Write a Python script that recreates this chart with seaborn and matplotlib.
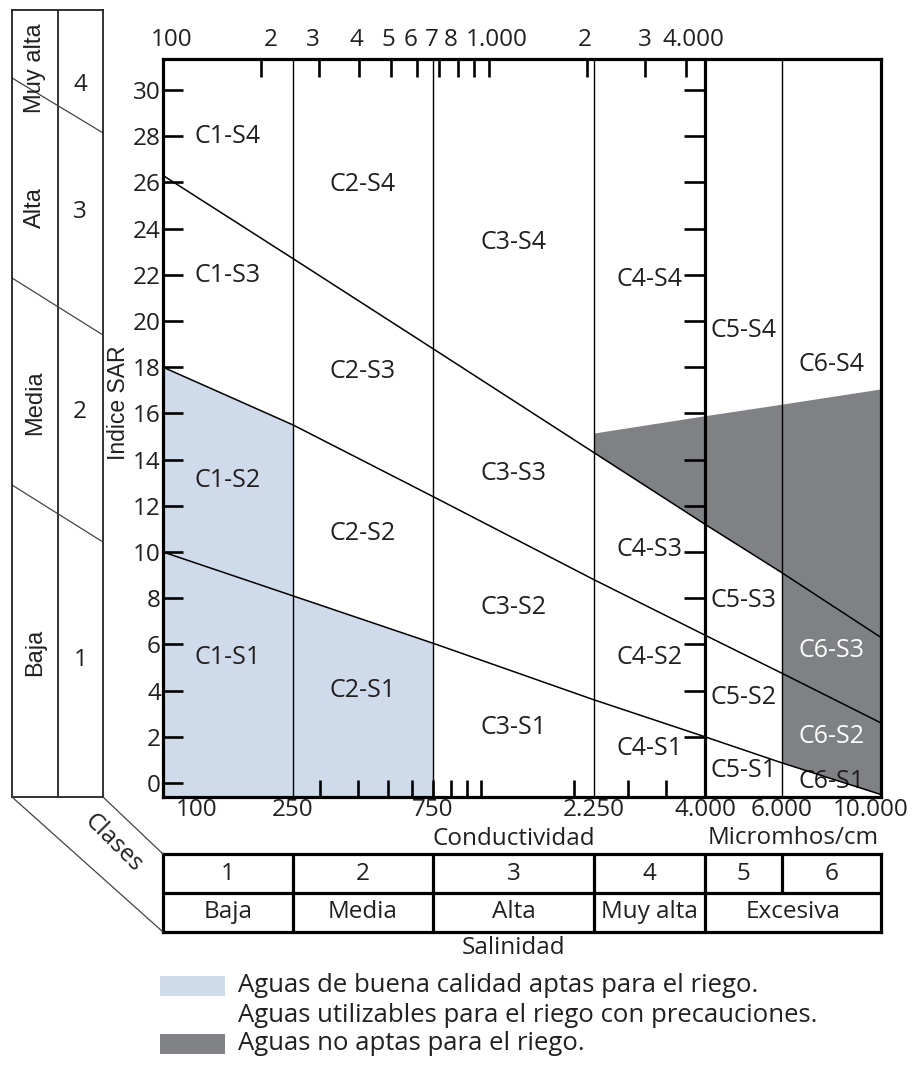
import numpy as np
import pandas as pd
import matplotlib
matplotlib.use("Agg")
import matplotlib.pyplot as plt
from matplotlib.patches import Rectangle, ConnectionPatch
from matplotlib.transforms import ScaledTranslation, blended_transform_factory
import seaborn as sns

# conductivity class limits (micromhos/cm) and their labels
BOUNDS = [100, 250, 750, 2250, 4000, 6000, 10000]
BOUND_LABELS = ["100", "250", "750", "2.250", "4.000", "6.000", "10.000"]
# the diagram's axis is only roughly logarithmic: where each limit sits along it
AXIS_STOPS = [0, 130, 270, 431, 542, 619, 718]

# SAR of the three sodium-class limits, read at each conductivity limit
S1_S2 = [10.0, 8.1, 6.05, 3.6, 2.0, 0.87, -0.5]
S2_S3 = [18.0, 15.5, 12.4, 8.8, 6.4, 4.75, 2.6]
S3_S4 = [26.3, 22.7, 18.8, 14.3, 11.2, 9.1, 6.3]
# upper edge of the "not suitable" zone at 2250, 4000, 6000, 10000
UNFIT_TOP = [15.15, 15.9, 16.4, 17.06]

SAR_TICKS = list(range(0, 31, 2))
TOP_TICKS = [100, 200, 300, 400, 500, 600, 700, 800, 900, 1000, 2000, 3000, 4000]
TOP_LABELS = ["100", "2", "3", "4", "5", "6", "7", "8", "", "1.000", "2", "3", "4.000"]
TOP_LABEL_SHIFT = [9, 10, -6, -3, -3, -6, -7, -7, 0, 8, -3, 0, 8]  # px
BOTTOM_TICKS = [300, 400, 500, 600, 700, 800, 900, 1000, 2000, 3000, 4000]
TOP_SPAN = (100, 15900)
BOTTOM_SPAN = (93, 19900)

SALINITY_CLASSES = ["1", "2", "3", "4", "5", "6"]
SALINITY_NAMES = ["Baja", "Media", "Alta", "Muy alta", "Excesiva"]
SALINITY_NAME_SPANS = [(100, 250), (250, 750), (750, 2250), (2250, 4000), (4000, 10000)]

SODIUM_NAMES = ["Baja", "Media", "Alta", "Muy alta"]
SODIUM_CLASSES = ["1", "2", "3", "4"]
SODIUM_NAME_Y = [5.67, 16.45, 24.9, 30.95]
SODIUM_CLASS_Y = [5.32, 16.06, 24.7, 30.2]
# left panel row limits (SAR at left edge, SAR at right edge)
SODIUM_ROW_LIMITS = [(12.9, 10.43), (21.86, 19.39), (30.52, 28.14)]

# region labels: C class -> SAR position of S1..S4 labels
REGION_Y = {
    1: [5.45, 13.1, 21.95, 28.0],
    2: [4.0, 10.8, 17.8, 25.9],
    3: [2.4, 7.6, 13.4, 23.4],
    4: [1.5, 5.45, 10.1, 21.8],
    5: [0.55, 3.7, 7.9, 19.6],
    6: [0.05, 2.0, 5.75, 18.1],
}
WHITE_LABELS = ["C6-S3", "C6-S2"]

LEGEND_TEXT = [
    "Aguas de buena calidad aptas para el riego.",
    "Aguas utilizables para el riego con precauciones.",
    "Aguas no aptas para el riego.",
]
LEGEND_ROWS = [986, 1015, 1044]  # px

BLUE = "#cfdaea"
GRAY = "#7f8184"
TXT = "#231f20"
LEGEND_COLORS = [BLUE, None, GRAY]
Y0, Y1 = -0.606, 31.34
FS = 17.5
NARROW = ["Liberation Sans", "DejaVu Sans"]

LOG_B = np.log10(BOUNDS)


def fwd(x):
    with np.errstate(divide="ignore", invalid="ignore"):
        return np.interp(np.log10(x), LOG_B, AXIS_STOPS)


def inv(p):
    return 10 ** np.interp(p, AXIS_STOPS, LOG_B)


def mid(a, b):
    return inv((fwd(a) + fwd(b)) / 2)


sns.set_theme(style="white")
plt.rcParams["font.family"] = ["Open Sans", "DejaVu Sans"]
plt.rcParams["text.color"] = TXT

W, H = 917, 1065
fig = plt.figure(figsize=(W / 100, H / 100), dpi=100)


def box(l, t, r, b):
    return [l / W, 1 - b / H, (r - l) / W, (b - t) / H]


def px(dx, dy=0):
    return ScaledTranslation(dx / 100, dy / 100, fig.dpi_scale_trans)


ax = fig.add_axes(box(163, 59, 881, 797))
axL = fig.add_axes(box(12, 10, 103, 797))
axT = fig.add_axes(box(163, 854, 881, 932), sharex=ax)

ax.set_xscale("function", functions=(fwd, inv))
ax.set_xlim(BOUNDS[0], BOUNDS[-1])
ax.set_ylim(Y0, Y1)

# shaded zones
ax.fill_between(BOUNDS[:2], Y0, S2_S3[:2], color=BLUE, lw=0, zorder=0.5)
ax.fill_between(BOUNDS[1:3], Y0, S1_S2[1:3], color=BLUE, lw=0, zorder=0.5)
ax.fill_between(BOUNDS[3:6], S3_S4[3:6], UNFIT_TOP[:3], color=GRAY, lw=0, zorder=0.5)
ax.fill_between(BOUNDS[5:7], S1_S2[5:7], UNFIT_TOP[2:], color=GRAY, lw=0, zorder=0.5)

# sodium limits
lines = pd.DataFrame({
    "cond": BOUNDS * 3,
    "sar": S1_S2 + S2_S3 + S3_S4,
    "line": ["S1"] * 7 + ["S2"] * 7 + ["S3"] * 7,
})
sns.lineplot(data=lines, x="cond", y="sar", units="line", estimator=None,
             color="black", linewidth=1.1, sort=False, ax=ax)

# salinity limits
ax.vlines([250, 750, 2250, 6000], Y0, Y1, color="black", lw=1.0)
ax.vlines(4000, Y0, Y1, color="black", lw=2.3)
ax.plot([4000] * (len(SAR_TICKS) - 1), SAR_TICKS[1:], ls="none", marker=0,
        ms=15, mew=1.9, color="black")

for sp in ax.spines.values():
    sp.set_linewidth(2.3)
    sp.set_color("black")
ax.set_xlabel("")
ax.set_ylabel("Indice SAR", family=NARROW, fontsize=16.5, color=TXT)
ax.yaxis.set_label_coords(-33 / 718, (797 - 403) / 738)
ax.set_xticks([])
ax.set_yticks(SAR_TICKS)
ax.tick_params(axis="y", direction="in", length=14.5, width=1.9, pad=1.5,
               labelsize=FS, color="black", labelcolor=TXT, left=True)

# boundary labels under the frame
blend = blended_transform_factory(ax.transData, ax.transAxes)
for i, (x, lab) in enumerate(zip(BOUNDS, BOUND_LABELS)):
    ha, dx = "center", 0
    if i == 0:
        ha, dx = "left", 13
    elif i == len(BOUNDS) - 1:
        dx = -10
    ax.text(x, -13 / 738, lab, ha=ha, va="center", fontsize=FS,
            transform=blend + px(dx))
ax.text(mid(750, 2250), -42 / 738, "Conductividad", ha="center", va="center",
        fontsize=FS, transform=blend)
ax.text(mid(4000, 10000), -41 / 738, "Micromhos/cm", ha="center", va="center",
        fontsize=FS, transform=blend)

# region labels
for c, ys in REGION_Y.items():
    xc = mid(BOUNDS[c - 1], BOUNDS[c])
    for s, y in enumerate(ys, start=1):
        lab = f"C{c}-S{s}"
        ax.text(xc, y, lab, ha="center", va="center", fontsize=18,
                color="white" if lab in WHITE_LABELS else TXT, zorder=1.5)

# top scale
axt = ax.twiny()
axt.set_xscale("log")
axt.set_xlim(*TOP_SPAN)
axt.set_xticks(TOP_TICKS, TOP_LABELS)
axt.minorticks_off()
axt.tick_params(axis="x", direction="in", length=13, width=1.9, pad=5,
                labelsize=FS, color="black", labelcolor=TXT)
for lab, dx in zip(axt.get_xticklabels(), TOP_LABEL_SHIFT):
    lab.set_transform(lab.get_transform() + px(dx))
for sp in axt.spines.values():
    sp.set_visible(False)

# bottom minor scale
axb = ax.twiny()
axb.set_xscale("log")
axb.set_xlim(*BOTTOM_SPAN)
axb.xaxis.tick_bottom()
axb.set_xticks(BOTTOM_TICKS, [""] * len(BOTTOM_TICKS))
axb.minorticks_off()
axb.tick_params(axis="x", direction="in", length=12, width=1.9, color="black",
                top=False, labeltop=False)
for sp in axb.spines.values():
    sp.set_visible(False)

# salinity table
axT.set_ylim(0, 2)
axT.tick_params(left=False, bottom=False, labelleft=False, labelbottom=False)
axT.hlines(1, BOUNDS[0], BOUNDS[-1], color="black", lw=2.3)
axT.vlines(BOUNDS[1:-1], 1, 2, color="black", lw=2.3)
axT.vlines(BOUNDS[1:5], 0, 1, color="black", lw=2.3)
for sp in axT.spines.values():
    sp.set_linewidth(2.3)
    sp.set_color("black")
for a, b, lab in zip(BOUNDS[:-1], BOUNDS[1:], SALINITY_CLASSES):
    axT.text(mid(a, b), 1.5, lab, ha="center", va="center", fontsize=FS)
for (a, b), lab in zip(SALINITY_NAME_SPANS, SALINITY_NAMES):
    axT.text(mid(a, b), 0.5, lab, ha="center", va="center", fontsize=FS)
axT.text(mid(750, 2250), -0.41, "Salinidad", ha="center", va="center", fontsize=FS)

# sodium panel
axL.set_xlim(0, 2)
axL.set_ylim(Y0, 33.46)
axL.set_xticks([])
axL.set_yticks([])
for sp in axL.spines.values():
    sp.set_linewidth(1.3)
    sp.set_color("#222222")
axL.axvline(1, color="#222222", lw=1.3)
for l, r in SODIUM_ROW_LIMITS:
    axL.plot([0, 2], [l, r], color="#444444", lw=0.9)
for y, lab in zip(SODIUM_NAME_Y, SODIUM_NAMES):
    axL.text(0.5, y, lab, rotation=90, ha="center", va="center", fontsize=17,
             family=NARROW)
for y, lab in zip(SODIUM_CLASS_Y, SODIUM_CLASSES):
    axL.text(1.5, y, lab, ha="center", va="center", fontsize=FS)

for xyA, xyB in [((0, 0), (0, 0)), ((1, 0), (0, 1))]:
    fig.add_artist(ConnectionPatch(xyA=xyA, coordsA=axL.transAxes, xyB=xyB,
                                   coordsB=axT.transAxes, color="#444444", lw=0.9))
fig.text(113 / W, 1 - 843 / H, "Clases", rotation=-45, ha="center", va="center",
         fontsize=FS, rotation_mode="anchor")

# legend
for y, txt, col in zip(LEGEND_ROWS, LEGEND_TEXT, LEGEND_COLORS):
    if col is not None:
        fig.add_artist(Rectangle((160 / W, 1 - (y + 10) / H), 65 / W, 20 / H,
                                 transform=fig.transFigure, fc=col, ec="none"))
    fig.text(238 / W, 1 - y / H, txt, ha="left", va="center", fontsize=18.5)

fig.savefig("out.png", dpi=100)
